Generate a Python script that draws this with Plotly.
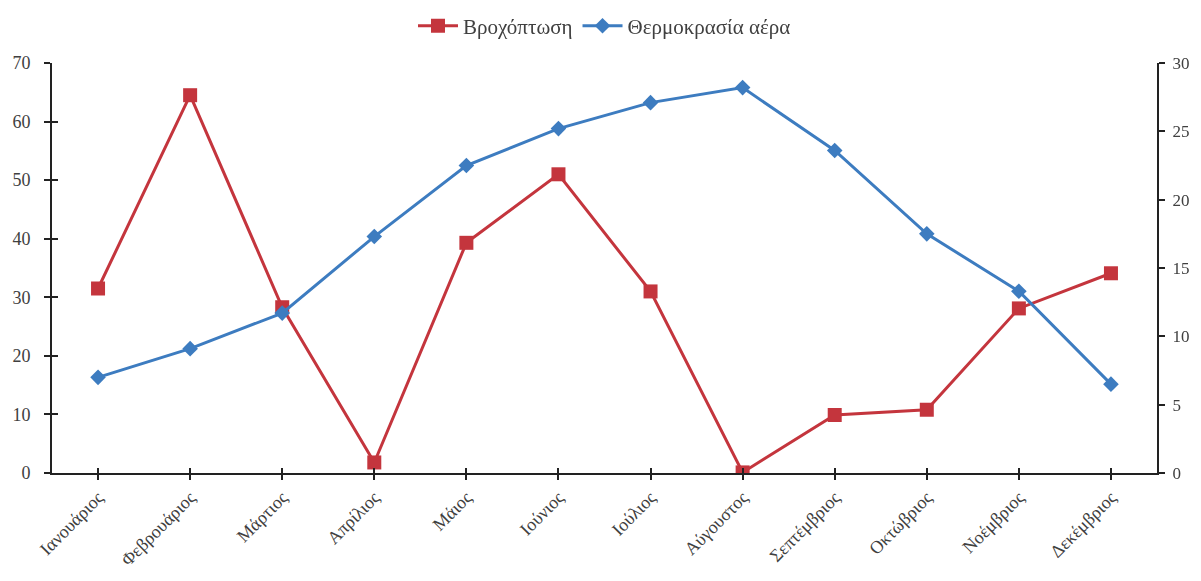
import plotly.graph_objects as go

months = ["Ιανουάριος", "Φεβρουάριος", "Μάρτιος", "Απρίλιος", "Μάιος", "Ιούνιος",
          "Ιούλιος", "Αύγουστος", "Σεπτέμβριος", "Οκτώβριος", "Νοέμβριος", "Δεκέμβριος"]
rain = [31.5, 64.5, 28.3, 1.8, 39.3, 51.0, 31.0, 0.1, 9.9, 10.8, 28.1, 34.1]
temp = [7.0, 9.1, 11.7, 17.3, 22.5, 25.2, 27.1, 28.2, 23.6, 17.5, 13.3, 6.5]
left_ticks = [0, 10, 20, 30, 40, 50, 60, 70]
right_ticks = [0, 5, 10, 15, 20, 25, 30]

RED = "#C4353D"
BLUE = "#3D7CC0"
AX = "#222222"
TXT = "#404040"
FONT = "Liberation Serif"

fig = go.Figure()
fig.add_trace(go.Scatter(
    x=months, y=rain, name="Βροχόπτωση", mode="lines+markers",
    line=dict(color=RED, width=3),
    marker=dict(symbol="square", size=14, color=RED),
    xaxis="x", yaxis="y"))
fig.add_trace(go.Scatter(
    x=months, y=temp, name="Θερμοκρασία αέρα", mode="lines+markers",
    line=dict(color=BLUE, width=3),
    marker=dict(symbol="diamond", size=12, color=BLUE),
    xaxis="x", yaxis="y2"))
# invisible helper trace so the overlay axes (inside tick halves) are drawn
fig.add_trace(go.Scatter(
    x=list(range(len(months))), y=rain, mode="markers", opacity=0,
    showlegend=False, hoverinfo="skip", xaxis="x2", yaxis="y3"))

fig.update_layout(
    width=1185, height=565,
    margin=dict(l=44, r=36, t=55, b=100, autoexpand=False),
    paper_bgcolor="white", plot_bgcolor="white",
    font=dict(family=FONT, size=18, color=TXT),
    showlegend=True,
    legend=dict(orientation="h", x=0.5, xanchor="center", y=1.09, yanchor="middle",
                font=dict(family=FONT, size=21, color=TXT), itemwidth=40,
                tracegroupgap=0),
    xaxis=dict(type="category", range=[-0.5, 11.5], showgrid=False, zeroline=False,
               showline=True, linecolor=AX, linewidth=2,
               ticks="outside", ticklen=5, tickwidth=2, tickcolor=AX,
               tickangle=-45, tickfont=dict(family=FONT, size=18, color=TXT)),
    xaxis2=dict(overlaying="x", anchor="y3", range=[-0.5, 11.5],
                tickvals=list(range(len(months))), showticklabels=False,
                ticks="inside", ticklen=5, tickwidth=2, tickcolor=AX,
                showgrid=False, zeroline=False, showline=False),
    yaxis=dict(range=[0, 70], tickvals=left_ticks, showgrid=False, zeroline=False,
               showline=True, linecolor=AX, linewidth=2,
               ticks="outside", ticklen=6, tickwidth=2, tickcolor=AX,
               ticklabelstandoff=10,
               tickfont=dict(family=FONT, size=18, color=TXT)),
    yaxis2=dict(range=[0, 30], tickvals=right_ticks, overlaying="y", side="right",
                showgrid=False, zeroline=False,
                showline=True, linecolor=AX, linewidth=2,
                ticks="outside", ticklen=6, tickwidth=2, tickcolor=AX,
                ticklabelstandoff=4,
                tickfont=dict(family=FONT, size=17, color=TXT)),
    yaxis3=dict(range=[0, 70], tickvals=left_ticks, overlaying="y", side="left",
                anchor="x2", showticklabels=False,
                ticks="inside", ticklen=6, tickwidth=2, tickcolor=AX,
                showgrid=False, zeroline=False, showline=False),
)

fig.write_html("out.html")
